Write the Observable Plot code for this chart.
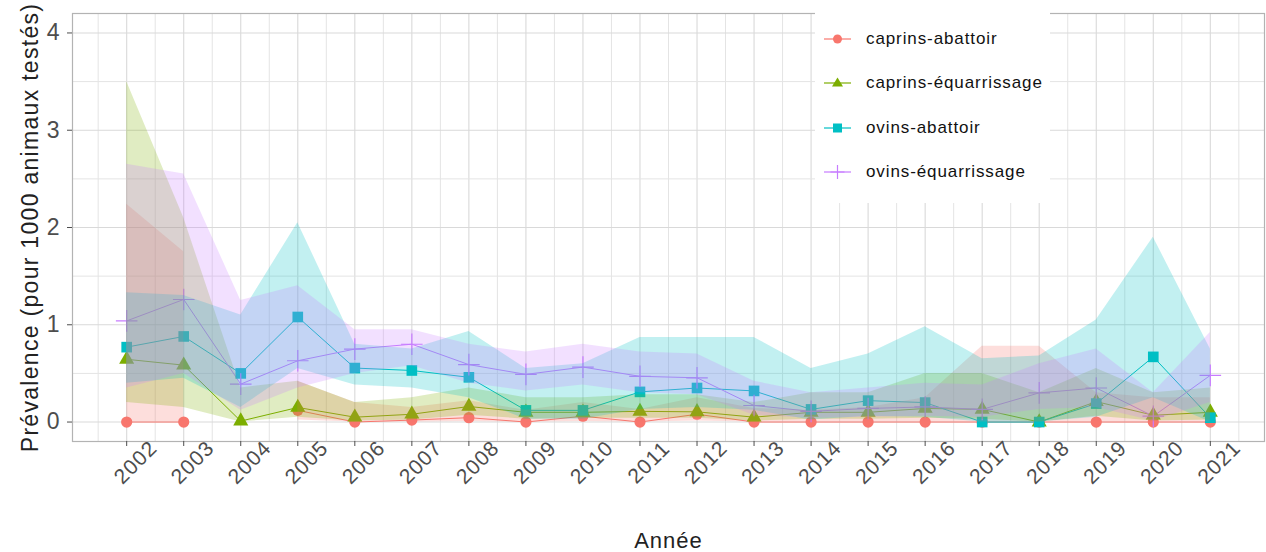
<!DOCTYPE html>
<html>
<head>
<meta charset="utf-8">
<script src="https://cdn.jsdelivr.net/npm/d3@7"></script>
<script src="https://cdn.jsdelivr.net/npm/@observablehq/plot@0.6"></script>
<style>
  body { margin: 0; background: #fff; font-family: "Liberation Sans", Arial, sans-serif; }
  #wrap { position: relative; width: 1266px; height: 552px; overflow: hidden; }
  #legend { position: absolute; left: 815px; top: 0px; width: 235px; height: 203px; background: #fff; }
  .row { position: absolute; left: 9px; height: 20px; display: flex; align-items: center; }
  .row span { margin-left: 15px; font-size: 17px; letter-spacing: 0.9px; color: #111; }
  .xlab text { letter-spacing: 1px; }
  .ylab text { letter-spacing: 1.3px; }
  .atitle text { letter-spacing: 1px; }
</style>
</head>
<body>
<div id="wrap"><div id="chart"></div><div id="legend"></div></div>
<script>
const years = [2002,2003,2004,2005,2006,2007,2008,2009,2010,2011,2012,2013,2014,2015,2016,2017,2018,2019,2020,2021];
const seriesNames = ["caprins-abattoir","caprins-équarrissage","ovins-abattoir","ovins-équarrissage"];
const seriesColors = ["#F8766D","#7CAE00","#00BFC4","#C77CFF"];
const seriesSymbols = ["circle","triangle","square","plus"];

const caprinsAbattoir     = [0, 0, null, 0.12, 0, 0.02, 0.045, 0, 0.06, 0, 0.08, 0, 0, 0, 0, 0, 0, 0, 0, 0];
const caprinsAbattoirLow  = [0, 0, null, 0.02, 0, 0, 0.005, 0, 0.005, 0, 0.01, 0, 0, 0, 0, 0, 0, 0, 0, 0];
const caprinsAbattoirHigh = [2.24, 1.75, null, 0.42, 0.2, 0.15, 0.22, 0.12, 0.2, 0.13, 0.25, 0.14, 0.12, 0.15, 0.25, 0.78, 0.78, 0.3, 0.25, 0.25];

const caprinsEquar     = [0.645, 0.585, 0.01, 0.15, 0.05, 0.08, 0.16, 0.1, 0.1, 0.11, 0.105, 0.05, 0.1, 0.1, 0.14, 0.13, 0, 0.21, 0.07, 0.1];
const caprinsEquarLow  = [0.2, 0.15, 0, 0.05, 0.01, 0.02, 0.07, 0.03, 0.04, 0.04, 0.04, 0.01, 0.03, 0.03, 0.04, 0.03, 0, 0.06, 0.01, 0.02];
const caprinsEquarHigh = [3.5, 2.1, 0.35, 0.42, 0.2, 0.25, 0.35, 0.25, 0.25, 0.28, 0.28, 0.2, 0.3, 0.3, 0.5, 0.5, 0.3, 0.55, 0.3, 0.35];

const ovinsAbattoir     = [0.77, 0.88, 0.5, 1.08, 0.555, 0.53, 0.46, 0.12, 0.12, 0.31, 0.35, 0.32, 0.13, 0.22, 0.2, 0, 0, 0.19, 0.67, 0.045];
const ovinsAbattoirLow  = [0.4, 0.45, 0.15, 0.55, 0.38, 0.35, 0.25, 0.03, 0.03, 0.13, 0.15, 0.12, 0.02, 0.06, 0.05, 0, 0, 0.05, 0.25, 0];
const ovinsAbattoirHigh = [1.33, 1.3, 1.1, 2.05, 0.8, 0.75, 0.93, 0.55, 0.6, 0.87, 0.87, 0.87, 0.55, 0.7, 0.98, 0.65, 0.68, 1.05, 1.9, 0.75];

const ovinsEquar     = [1.04, 1.26, 0.39, 0.63, 0.75, 0.80, 0.59, 0.49, 0.565, 0.47, 0.455, 0.17, 0.11, 0.14, 0.155, 0.13, 0.30, 0.35, 0.06, 0.48];
const ovinsEquarLow  = [0.35, 0.5, 0.12, 0.35, 0.5, 0.58, 0.4, 0.32, 0.38, 0.3, 0.28, 0.07, 0.04, 0.05, 0.06, 0.05, 0.13, 0.15, 0.01, 0.2];
const ovinsEquarHigh = [2.65, 2.55, 1.25, 1.4, 0.95, 0.95, 0.8, 0.72, 0.8, 0.72, 0.7, 0.42, 0.3, 0.35, 0.4, 0.38, 0.6, 0.75, 0.3, 0.92];

const yTicks = [0, 1, 2, 3, 4];
const yMinor = [0.5, 1.5, 2.5, 3.5];
const xMinor = [2001.5, ...years.map(y => y + 0.5)];

const seriesValues = [
  [caprinsAbattoir, caprinsAbattoirLow, caprinsAbattoirHigh],
  [caprinsEquar, caprinsEquarLow, caprinsEquarHigh],
  [ovinsAbattoir, ovinsAbattoirLow, ovinsAbattoirHigh],
  [ovinsEquar, ovinsEquarLow, ovinsEquarHigh]
];

const data = seriesNames.flatMap((s, k) => years.map((yr, i) => ({
  series: s, year: yr,
  value: seriesValues[k][0][i], lo: seriesValues[k][1][i], hi: seriesValues[k][2][i]
})));

const font = '"Liberation Sans", Arial, sans-serif';

const dotMarks = seriesNames.map((s, k) => Plot.dot(data.filter(d => d.series === s && d.value != null), {
  x: "year", y: "value", symbol: () => seriesSymbols[k],
  r: k === 3 ? 7 : (k === 2 ? 6 : 5.6),
  ...(k === 3 ? {stroke: seriesColors[k], strokeWidth: 1.2, fill: "none"} : {fill: seriesColors[k], stroke: "none"})
}));

const chart = Plot.plot({
  width: 1266, height: 552,
  marginLeft: 72, marginRight: 2, marginTop: 13, marginBottom: 111,
  style: {fontFamily: font, background: "#fff"},
  x: {domain: [2001.05, 2021.95], axis: null},
  y: {domain: [-0.2, 4.2], axis: null},
  color: {domain: seriesNames, range: seriesColors},
  symbol: {domain: seriesSymbols, range: seriesSymbols},
  marks: [
    Plot.ruleX(xMinor, {stroke: "#e4e4e4", strokeWidth: 1}),
    Plot.ruleX(years, {stroke: "#d9d9d9", strokeWidth: 1.1}),
    Plot.ruleY(yMinor, {stroke: "#e4e4e4", strokeWidth: 1}),
    Plot.ruleY(yTicks, {stroke: "#d9d9d9", strokeWidth: 1.1}),
    Plot.line(data, {x: "year", y: "value", z: "series", stroke: "series", strokeWidth: 1}),
    ...dotMarks,
    Plot.areaY(data, {x: "year", y1: "lo", y2: "hi", z: "series", fill: "series", fillOpacity: 0.24, curve: "linear"}),
    Plot.frame({stroke: "#b3b3b3", strokeWidth: 1.2}),
    Plot.axisY({ticks: yTicks, tickSize: 5, tickPadding: 8, fontSize: 23, label: null, color: "#4d4d4d", tickFormat: d => String(d)}),
    Plot.axisX({ticks: years, tickSize: 5, tickFormat: () => "", label: null, color: "#4d4d4d"}),
    Plot.text(years, {x: d => d, frameAnchor: "bottom", dx: 9, dy: 21, rotate: -45, fontSize: 21, fill: "#4d4d4d", lineAnchor: "middle", text: d => String(d), className: "xlab"}),
    Plot.text(["Année"], {frameAnchor: "bottom", dy: 99, fontSize: 22, fill: "#222", lineAnchor: "middle", className: "atitle"}),
    Plot.text(["Prévalence (pour 1000 animaux testés)"], {frameAnchor: "left", dx: -42, rotate: -90, fontSize: 23, fill: "#222", textAnchor: "middle", lineAnchor: "middle", className: "ylab"})
  ]
});
document.getElementById("chart").appendChild(chart);

// legend overlay
const legend = document.getElementById("legend");
const rowTops = [29, 73, 118, 162];
seriesNames.forEach((s, k) => {
  const row = document.createElement("div");
  row.className = "row";
  row.style.top = rowTops[k] + "px";
  const c = seriesColors[k];
  let sym;
  if (k === 0) sym = `<circle cx="13.5" cy="10" r="4.5" fill="${c}"/>`;
  else if (k === 1) sym = `<path d="M13.5 4.5 L19 13.5 L8 13.5 Z" fill="${c}"/>`;
  else if (k === 2) sym = `<rect x="9" y="5.5" width="9" height="9" fill="${c}"/>`;
  else sym = `<path d="M13.5 3 V17 M6.5 10 H20.5" stroke="${c}" stroke-width="1.2"/>`;
  row.innerHTML = `<svg width="27" height="20"><line x1="0" x2="27" y1="10" y2="10" stroke="${c}" stroke-width="1.2"/>${sym}</svg><span>${s}</span>`;
  legend.appendChild(row);
});
</script>
</body>
</html>
